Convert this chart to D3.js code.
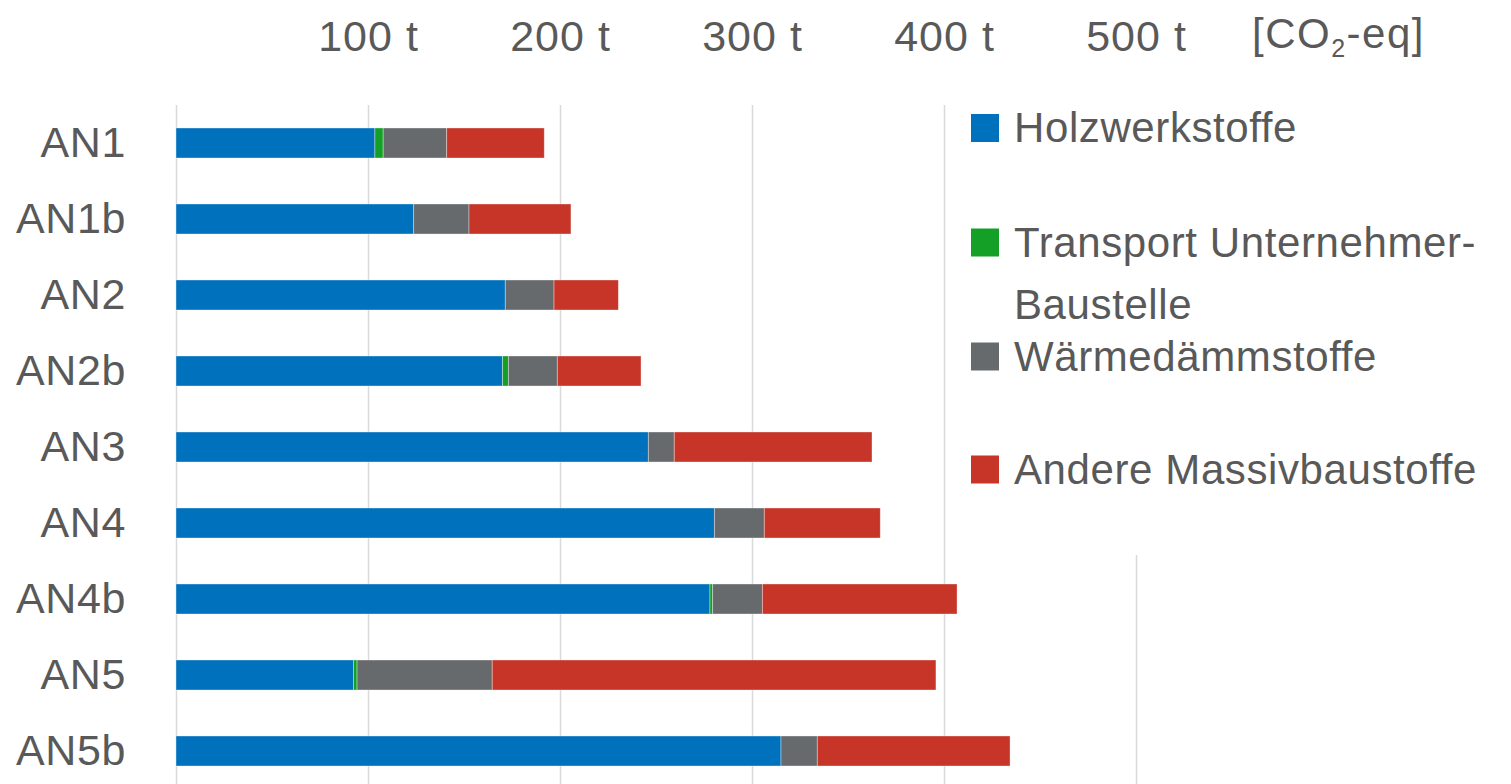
<!DOCTYPE html>
<html>
<head>
<meta charset="utf-8">
<script src="https://cdn.jsdelivr.net/npm/d3@7"></script>
<style>
  body { margin: 0; background: #fff; }
  text { font-family: "Liberation Sans", Arial, sans-serif; fill: #595959; }
</style>
</head>
<body>
<script>
// data (t CO2-eq)
const categories = ["AN1", "AN1b", "AN2", "AN2b", "AN3", "AN4", "AN4b", "AN5", "AN5b"];
const holz      = [103.6, 123.8, 171.5, 170.1, 246.0, 280.4, 278.1, 92.4, 315.1];
const transport = [4.3, 0, 0, 3.0, 0, 0, 1.4, 1.9, 0];
const waerme    = [33.1, 28.8, 25.4, 25.5, 13.5, 26.0, 25.9, 70.4, 18.9];
const andere    = [50.8, 53.1, 33.5, 43.6, 103.0, 60.4, 101.4, 231.1, 100.4];

const seriesKeys = ["holz", "transport", "waerme", "andere"];
const seriesNames = [["Holzwerkstoffe"], ["Transport Unternehmer-", "Baustelle"], ["Wärmedämmstoffe"], ["Andere Massivbaustoffe"]];
const colors = ["#0072bd", "#149f27", "#676a6c", "#c63527"];
const tickValues = [100, 200, 300, 400, 500];

const W = 1511, H = 784;
const svg = d3.select("body").append("svg")
  .attr("width", W)
  .attr("height", H);

const x = d3.scaleLinear().domain([0, 500]).range([176, 1136]);
const y = d3.scaleBand().domain(categories).range([105, 789]).paddingInner(0.605).paddingOuter(0.3025);

const rows = categories.map((c, i) => ({
  cat: c, holz: holz[i], transport: transport[i], waerme: waerme[i], andere: andere[i]
}));
const stacked = d3.stack().keys(seriesKeys)(rows);

// grid
const grid = svg.append("g")
  .attr("transform", "translate(0,105)")
  .call(d3.axisBottom(x).tickValues([0].concat(tickValues)).tickSize(H).tickFormat(""));
grid.select(".domain").remove();
grid.selectAll("line").attr("stroke", "#d9d9d9").attr("stroke-width", 1.5);

// bars
svg.append("g").selectAll("g")
  .data(stacked)
  .join("g")
  .attr("fill", (d, i) => colors[i])
  .selectAll("rect")
  .data(d => d)
  .join("rect")
  .attr("x", d => x(d[0]))
  .attr("y", d => y(d.data.cat))
  .attr("width", d => x(d[1]) - x(d[0]))
  .attr("height", y.bandwidth())
  .attr("stroke", "#fff")
  .attr("stroke-opacity", 0.45)
  .attr("stroke-width", 0.8);

// category labels
svg.append("g").selectAll("text")
  .data(categories)
  .join("text")
  .attr("x", 126)
  .attr("y", d => y(d) + y.bandwidth() / 2)
  .attr("dy", "0.33em")
  .attr("text-anchor", "end")
  .attr("font-size", 43)
  .style("letter-spacing", "0.6px")
  .text(d => d);

// legend (white box hides the 500 t gridline behind it)
const legend = svg.append("g");
legend.append("rect")
  .attr("x", 958).attr("y", 80).attr("width", W - 958).attr("height", 475)
  .attr("fill", "#fff");

const legendY = [128, 242.5, 356.5, 469.5];
const item = legend.selectAll("g.item")
  .data(seriesNames)
  .join("g")
  .attr("class", "item")
  .attr("transform", (d, i) => `translate(971,${legendY[i]})`);
item.append("rect")
  .attr("x", 0).attr("y", -14).attr("width", 28).attr("height", 28)
  .attr("fill", (d, i) => colors[i]);
item.append("text")
  .attr("x", 43)
  .attr("y", 14)
  .attr("font-size", 42)
  .style("letter-spacing", "0.6px")
  .selectAll("tspan")
  .data(d => d)
  .join("tspan")
  .attr("x", 43)
  .attr("dy", (d, i) => i === 0 ? 0 : 62)
  .text(d => d);

// top axis labels
const topAxis = svg.append("g")
  .attr("transform", "translate(0,51)")
  .call(d3.axisTop(x).tickValues(tickValues).tickSize(0).tickPadding(0).tickFormat(d => d + " t"));
topAxis.select(".domain").remove();
topAxis.selectAll("text")
  .attr("font-size", 43)
  .attr("dy", 0)
  .attr("fill", "#595959")
  .style("font-family", "'Liberation Sans', Arial, sans-serif")
  .style("letter-spacing", "1px");

const unit = svg.append("text")
  .attr("x", 1252)
  .attr("y", 48)
  .attr("font-size", 42)
  .style("letter-spacing", "1.5px");
unit.append("tspan").text("[CO");
unit.append("tspan").attr("font-size", 25).attr("dy", 8.5).text("2");
unit.append("tspan").attr("dy", -8.5).text("-eq]");
</script>
</body>
</html>
